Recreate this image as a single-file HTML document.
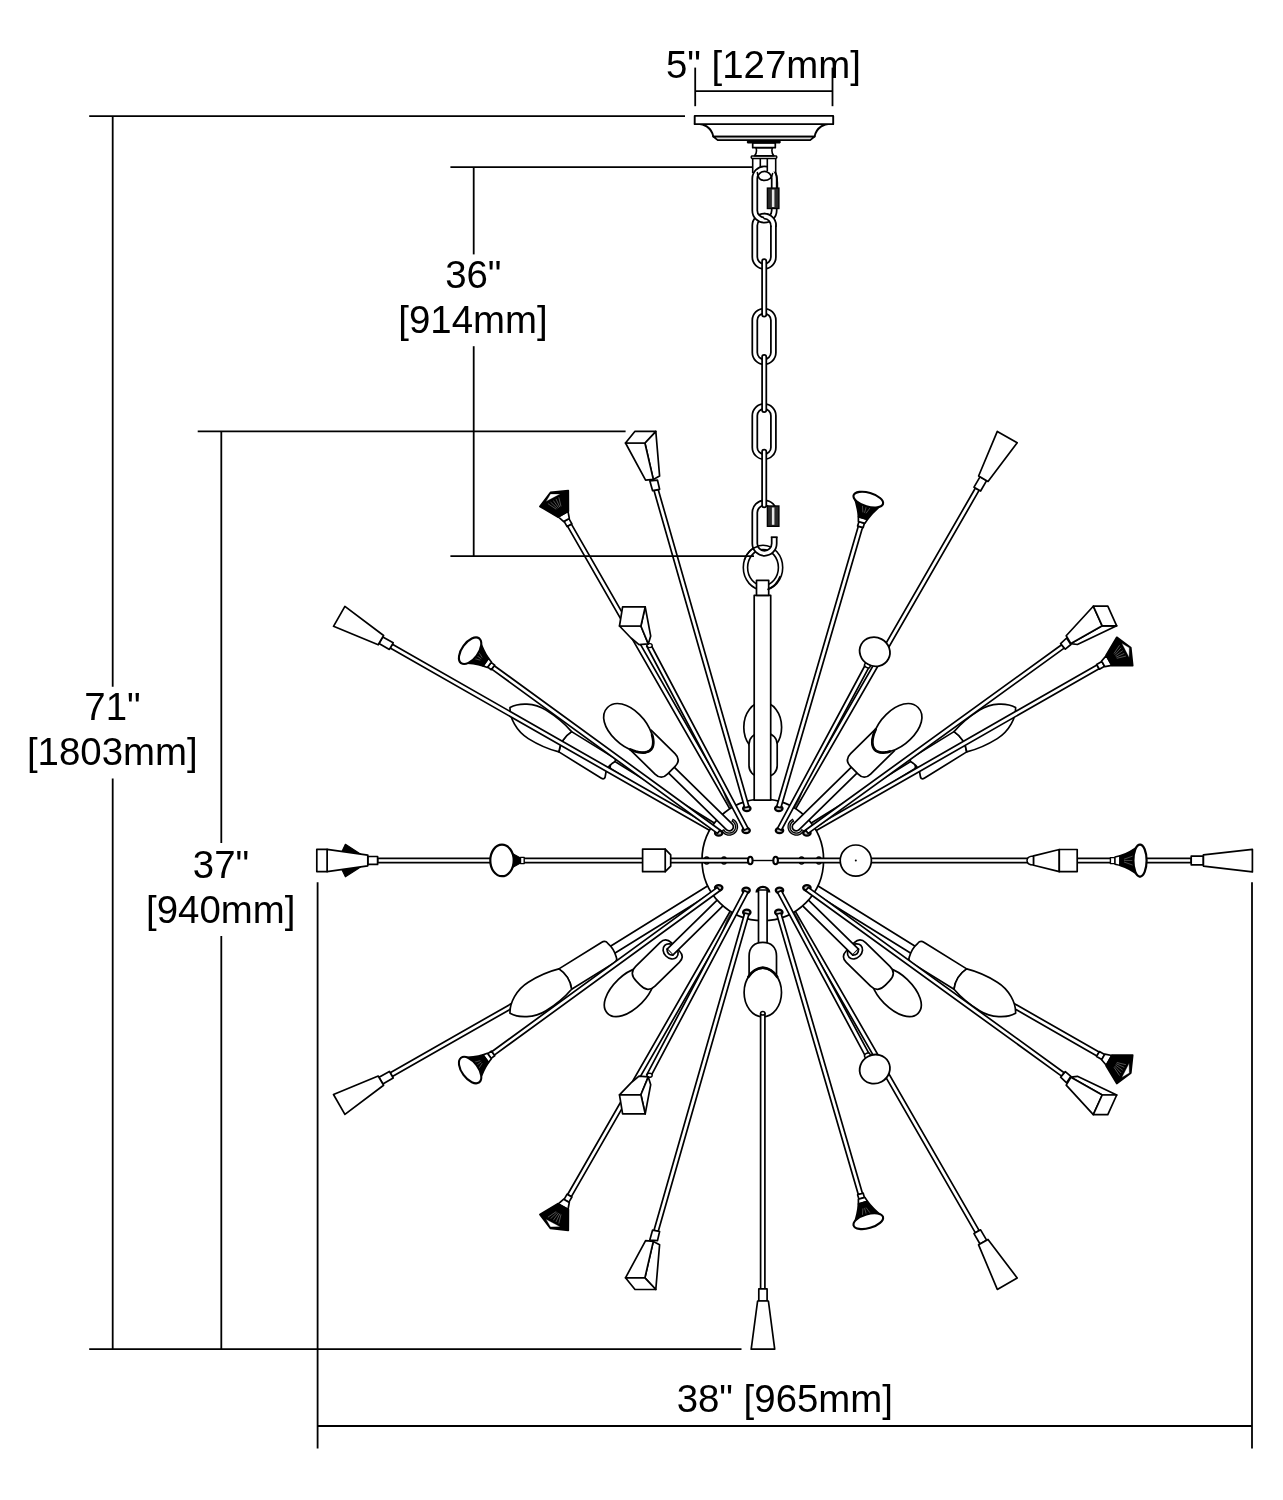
<!DOCTYPE html>
<html lang="en">
<head>
<meta charset="utf-8">
<title>Chandelier dimension drawing</title>
<style>html,body{margin:0;padding:0;background:#fff}body{width:1283px;height:1500px;overflow:hidden}svg{display:block;will-change:transform;transform:translateZ(0)}</style>
</head>
<body>
<svg width="1283" height="1500" viewBox="0 0 1283 1500">
<rect width="1283" height="1500" fill="#fff"/>
<polygon points="612.7,760.1 729.2,832.3 724.8,839.3 608.4,767.1" fill="#fff" stroke="#000" stroke-width="1.7" stroke-linejoin="round"/>
<path d="M614.8,761.4 Q609.3,762.8 610.5,768.4 " fill="none" stroke="#000" stroke-width="1.5" stroke-linejoin="round" stroke-linecap="round"/>
<path d="M571.6,731.6 L614.1,757.9 Q616.6,759.5 614.6,761.8 Q605.6,766.8 605.1,777.1 Q604,779.9 601.4,778.3 L558.9,751.9 Q560.6,738.9 571.6,731.6 Z" fill="#fff" stroke="#000" stroke-width="1.7" stroke-linejoin="round" stroke-linecap="round"/>
<path d="M510,707.5 C519,702.5 534.2,702.7 546,710.1 C557.9,717.5 566.1,725.2 571.6,731.6 Q560.6,738.9 558.9,751.9 C550.8,749.9 540.2,746 528.3,738.6 C516.4,731.3 509.5,717.8 510,707.5 Z" fill="#fff" stroke="#000" stroke-width="1.7" stroke-linejoin="round" stroke-linecap="round"/>
<polygon points="390.2,648 735.7,845.2 737.9,841.5 392.4,644.2" fill="#fff" stroke="#000" stroke-width="1.7" stroke-linejoin="round"/>
<polygon points="389.4,649.4 379,643.5 382.8,636.9 393.2,642.8" fill="#fff" stroke="#000" stroke-width="1.7" stroke-linejoin="round"/>
<polygon points="378.2,644.8 333.5,626.3 344.9,606.4 383.6,635.5" fill="#fff" stroke="#000" stroke-width="1.7" stroke-linejoin="round"/>
<polygon points="567.6,526.3 744.7,834.8 748.5,832.6 571.4,524.1" fill="#fff" stroke="#000" stroke-width="1.7" stroke-linejoin="round"/>
<polygon points="567.1,526.6 564.1,521.4 568.9,518.6 571.9,523.8" fill="#fff" stroke="#000" stroke-width="1.7" stroke-linejoin="round"/>
<polygon points="563.7,521.6 558.3,516.9 568,511.3 569.3,518.4" fill="#fff" stroke="#000" stroke-width="1.7" stroke-linejoin="round"/>
<polygon points="557.8,517.1 539.9,506.4 550.5,492.4 568.3,490.5 568.4,511.3" fill="#000" stroke="#000" stroke-width="1.7" stroke-linejoin="round"/>
<polygon points="550.5,493.9 560.2,494.1 546,501.5" fill="#fff" stroke="#000" stroke-width="0.3" stroke-linejoin="round"/>
<line x1="556.2" y1="509.2" x2="547.9" y2="503.6" stroke="#fff" stroke-width="0.6" opacity="0.55"/>
<line x1="557.4" y1="508.5" x2="550.5" y2="502.1" stroke="#fff" stroke-width="0.6" opacity="0.55"/>
<line x1="558.6" y1="507.8" x2="553.3" y2="500.5" stroke="#fff" stroke-width="0.6" opacity="0.55"/>
<line x1="559.8" y1="507.1" x2="556" y2="498.9" stroke="#fff" stroke-width="0.6" opacity="0.55"/>
<line x1="561" y1="506.4" x2="558.8" y2="497.3" stroke="#fff" stroke-width="0.6" opacity="0.55"/>
<polygon points="917.2,767.1 800.8,839.3 796.4,832.3 912.9,760.1" fill="#fff" stroke="#000" stroke-width="1.7" stroke-linejoin="round"/>
<path d="M915.1,768.4 Q916.3,762.8 910.8,761.4 " fill="none" stroke="#000" stroke-width="1.5" stroke-linejoin="round" stroke-linecap="round"/>
<path d="M966.7,751.9 L924.2,778.3 Q921.6,779.9 920.5,777.1 Q920,766.8 911,761.8 Q909,759.5 911.5,757.9 L954,731.6 Q965,738.9 966.7,751.9 Z" fill="#fff" stroke="#000" stroke-width="1.7" stroke-linejoin="round" stroke-linecap="round"/>
<path d="M1015.6,707.5 C1016.1,717.8 1009.2,731.3 997.3,738.6 C985.4,746 974.8,749.9 966.7,751.9 Q965,738.9 954,731.6 C959.5,725.2 967.7,717.5 979.6,710.1 C991.4,702.7 1006.6,702.5 1015.6,707.5 Z" fill="#fff" stroke="#000" stroke-width="1.7" stroke-linejoin="round" stroke-linecap="round"/>
<polygon points="1096.9,664.9 787.9,841.9 790.1,845.6 1099.1,668.7" fill="#fff" stroke="#000" stroke-width="1.7" stroke-linejoin="round"/>
<polygon points="1096.6,664.4 1101.8,661.4 1104.6,666.2 1099.4,669.2" fill="#fff" stroke="#000" stroke-width="1.7" stroke-linejoin="round"/>
<polygon points="1101.6,661 1106.3,655.6 1111.9,665.3 1104.8,666.6" fill="#fff" stroke="#000" stroke-width="1.7" stroke-linejoin="round"/>
<polygon points="1106.1,655.1 1116.8,637.3 1130.8,647.8 1132.7,665.6 1111.9,665.7" fill="#000" stroke="#000" stroke-width="1.7" stroke-linejoin="round"/>
<polygon points="1129.3,647.8 1129.1,657.5 1121.8,643.3" fill="#fff" stroke="#000" stroke-width="0.3" stroke-linejoin="round"/>
<line x1="1114" y1="653.5" x2="1119.6" y2="645.2" stroke="#fff" stroke-width="0.6" opacity="0.55"/>
<line x1="1114.7" y1="654.7" x2="1121.1" y2="647.8" stroke="#fff" stroke-width="0.6" opacity="0.55"/>
<line x1="1115.4" y1="655.9" x2="1122.7" y2="650.6" stroke="#fff" stroke-width="0.6" opacity="0.55"/>
<line x1="1116.1" y1="657.1" x2="1124.3" y2="653.4" stroke="#fff" stroke-width="0.6" opacity="0.55"/>
<line x1="1116.8" y1="658.3" x2="1125.9" y2="656.1" stroke="#fff" stroke-width="0.6" opacity="0.55"/>
<polygon points="975.4,488 777,832.6 780.8,834.7 979.2,490.2" fill="#fff" stroke="#000" stroke-width="1.7" stroke-linejoin="round"/>
<polygon points="974,487.2 980,476.8 986.6,480.6 980.6,491" fill="#fff" stroke="#000" stroke-width="1.7" stroke-linejoin="round"/>
<polygon points="978.6,476 997.3,431.4 1017.2,442.8 988,481.4" fill="#fff" stroke="#000" stroke-width="1.7" stroke-linejoin="round"/>
<polygon points="392.4,1076.6 737.9,879.3 735.7,875.6 390.2,1072.8" fill="#fff" stroke="#000" stroke-width="1.7" stroke-linejoin="round"/>
<polygon points="393.2,1078 382.8,1083.9 379,1077.3 389.4,1071.4" fill="#fff" stroke="#000" stroke-width="1.7" stroke-linejoin="round"/>
<polygon points="383.6,1085.3 344.9,1114.4 333.5,1094.5 378.2,1076" fill="#fff" stroke="#000" stroke-width="1.7" stroke-linejoin="round"/>
<polygon points="605.6,949.2 722,877 726.4,884 609.9,956.2" fill="#fff" stroke="#000" stroke-width="1.7" stroke-linejoin="round"/>
<path d="M607.7,947.9 Q606.5,953.5 612,954.9 " fill="none" stroke="#000" stroke-width="1.5" stroke-linejoin="round" stroke-linecap="round"/>
<path d="M558.9,968.9 L601.4,942.5 Q605.2,940.1 607.8,943.3 Q614.1,948.7 616.2,956.9 Q617.9,960.5 614.1,962.9 L571.6,989.2 Q569.9,976.2 558.9,968.9 Z" fill="#fff" stroke="#000" stroke-width="1.7" stroke-linejoin="round" stroke-linecap="round"/>
<path d="M510,1013.3 C509.5,1003 516.4,989.5 528.3,982.2 C540.2,974.8 550.8,970.9 558.9,968.9 Q569.9,976.2 571.6,989.2 C566.1,995.6 557.9,1003.3 546,1010.7 C534.2,1018.1 519,1018.3 510,1013.3 Z" fill="#fff" stroke="#000" stroke-width="1.7" stroke-linejoin="round" stroke-linecap="round"/>
<path d="M607.5,1013.3 C600.5,1006.2 605.3,992.2 618.4,979.4 C629.6,968.4 646.5,963 652.5,969.2 C658.5,975.4 652.9,992.1 641.6,1003.1 C628.6,1015.9 614.5,1020.4 607.5,1013.3 Z" fill="#fff" stroke="#000" stroke-width="1.7" stroke-linejoin="round" stroke-linecap="round"/>
<path d="M635.7,966.4 L660,942.6 Q665.7,937 671.3,942.7 L679.4,951 Q685,956.7 679.3,962.3 L655,986.1 Q647.9,993.1 640.2,985.2 L636.3,981.2 Q628.6,973.3 635.7,966.4 Z" fill="#fff" stroke="#000" stroke-width="1.7" stroke-linejoin="round" stroke-linecap="round"/>
<ellipse cx="670.6" cy="951.4" rx="6.6" ry="8.4" fill="#fff" stroke="#000" stroke-width="1.7" transform="rotate(-44.4 670.6 951.4)"/>
<polygon points="667.1,949.2 736.8,880.9 742.5,886.7 672.8,955.1" fill="#fff" stroke="#000" stroke-width="1.7" stroke-linejoin="round"/>
<path d="M667.1,949.2 Q666.9,955.1 672.8,955.1 " fill="#fff" stroke="#000" stroke-width="1.7" stroke-linejoin="round" stroke-linecap="round"/>
<polygon points="571.4,1196.7 748.5,888.2 744.7,886 567.6,1194.5" fill="#fff" stroke="#000" stroke-width="1.7" stroke-linejoin="round"/>
<polygon points="571.9,1197 568.9,1202.2 564.1,1199.4 567.1,1194.2" fill="#fff" stroke="#000" stroke-width="1.7" stroke-linejoin="round"/>
<polygon points="569.3,1202.4 568,1209.5 558.3,1203.9 563.7,1199.2" fill="#fff" stroke="#000" stroke-width="1.7" stroke-linejoin="round"/>
<polygon points="557.8,1203.7 539.9,1214.4 550.5,1228.4 568.3,1230.3 568.4,1209.5" fill="#000" stroke="#000" stroke-width="1.7" stroke-linejoin="round"/>
<polygon points="550.5,1226.9 560.2,1226.7 546,1219.3" fill="#fff" stroke="#000" stroke-width="0.3" stroke-linejoin="round"/>
<line x1="556.2" y1="1211.6" x2="547.9" y2="1217.2" stroke="#fff" stroke-width="0.6" opacity="0.55"/>
<line x1="557.4" y1="1212.3" x2="550.5" y2="1218.7" stroke="#fff" stroke-width="0.6" opacity="0.55"/>
<line x1="558.6" y1="1213" x2="553.3" y2="1220.3" stroke="#fff" stroke-width="0.6" opacity="0.55"/>
<line x1="559.8" y1="1213.7" x2="556" y2="1221.9" stroke="#fff" stroke-width="0.6" opacity="0.55"/>
<line x1="561" y1="1214.4" x2="558.8" y2="1223.5" stroke="#fff" stroke-width="0.6" opacity="0.55"/>
<polygon points="1099.1,1052.1 790.1,875.2 787.9,878.9 1096.9,1055.9" fill="#fff" stroke="#000" stroke-width="1.7" stroke-linejoin="round"/>
<polygon points="1099.4,1051.6 1104.6,1054.6 1101.8,1059.4 1096.6,1056.4" fill="#fff" stroke="#000" stroke-width="1.7" stroke-linejoin="round"/>
<polygon points="1104.8,1054.2 1111.9,1055.5 1106.3,1065.2 1101.6,1059.8" fill="#fff" stroke="#000" stroke-width="1.7" stroke-linejoin="round"/>
<polygon points="1106.1,1065.7 1116.8,1083.5 1130.8,1073 1132.7,1055.2 1111.9,1055.1" fill="#000" stroke="#000" stroke-width="1.7" stroke-linejoin="round"/>
<polygon points="1129.3,1073 1129.1,1063.3 1121.8,1077.5" fill="#fff" stroke="#000" stroke-width="0.3" stroke-linejoin="round"/>
<line x1="1114" y1="1067.3" x2="1119.6" y2="1075.6" stroke="#fff" stroke-width="0.6" opacity="0.55"/>
<line x1="1114.7" y1="1066.1" x2="1121.1" y2="1073" stroke="#fff" stroke-width="0.6" opacity="0.55"/>
<line x1="1115.4" y1="1064.9" x2="1122.7" y2="1070.2" stroke="#fff" stroke-width="0.6" opacity="0.55"/>
<line x1="1116.1" y1="1063.7" x2="1124.3" y2="1067.4" stroke="#fff" stroke-width="0.6" opacity="0.55"/>
<line x1="1116.8" y1="1062.5" x2="1125.9" y2="1064.7" stroke="#fff" stroke-width="0.6" opacity="0.55"/>
<polygon points="915.7,956.2 799.2,884 803.6,877 920,949.2" fill="#fff" stroke="#000" stroke-width="1.7" stroke-linejoin="round"/>
<path d="M913.6,954.9 Q919.1,953.5 917.9,947.9 " fill="none" stroke="#000" stroke-width="1.5" stroke-linejoin="round" stroke-linecap="round"/>
<path d="M954,989.2 L911.5,962.9 Q907.7,960.5 909.4,956.9 Q911.5,948.7 917.8,943.3 Q920.4,940.1 924.2,942.5 L966.7,968.9 Q955.7,976.2 954,989.2 Z" fill="#fff" stroke="#000" stroke-width="1.7" stroke-linejoin="round" stroke-linecap="round"/>
<path d="M1015.6,1013.3 C1006.6,1018.3 991.4,1018.1 979.6,1010.7 C967.7,1003.3 959.5,995.6 954,989.2 Q955.7,976.2 966.7,968.9 C974.8,970.9 985.4,974.8 997.3,982.2 C1009.2,989.5 1016.1,1003 1015.6,1013.3 Z" fill="#fff" stroke="#000" stroke-width="1.7" stroke-linejoin="round" stroke-linecap="round"/>
<path d="M918.1,1013.3 C911.1,1020.4 897,1015.9 884,1003.1 C872.7,992.1 867.1,975.4 873.1,969.2 C879.1,963 896,968.4 907.2,979.4 C920.3,992.2 925.1,1006.2 918.1,1013.3 Z" fill="#fff" stroke="#000" stroke-width="1.7" stroke-linejoin="round" stroke-linecap="round"/>
<path d="M870.6,986.1 L846.3,962.3 Q840.6,956.7 846.2,951 L854.3,942.7 Q859.9,937 865.6,942.6 L889.9,966.4 Q897,973.3 889.3,981.2 L885.4,985.2 Q877.7,993.1 870.6,986.1 Z" fill="#fff" stroke="#000" stroke-width="1.7" stroke-linejoin="round" stroke-linecap="round"/>
<ellipse cx="855" cy="951.4" rx="6.6" ry="8.4" fill="#fff" stroke="#000" stroke-width="1.7" transform="rotate(-135.6 855 951.4)"/>
<polygon points="852.8,955.1 783.1,886.7 788.8,880.9 858.5,949.2" fill="#fff" stroke="#000" stroke-width="1.7" stroke-linejoin="round"/>
<path d="M852.8,955.1 Q858.7,955.1 858.5,949.2 " fill="#fff" stroke="#000" stroke-width="1.7" stroke-linejoin="round" stroke-linecap="round"/>
<polygon points="979.2,1230.6 780.8,886.1 777,888.2 975.4,1232.8" fill="#fff" stroke="#000" stroke-width="1.7" stroke-linejoin="round"/>
<polygon points="980.6,1229.8 986.6,1240.2 980,1244 974,1233.6" fill="#fff" stroke="#000" stroke-width="1.7" stroke-linejoin="round"/>
<polygon points="988,1239.4 1017.2,1278 997.3,1289.4 978.6,1244.8" fill="#fff" stroke="#000" stroke-width="1.7" stroke-linejoin="round"/>
<polygon points="718.6,780.6 735,809.2 732,810.9 726.6,801.4" fill="#3a3a3a"/>
<polygon points="807,780.6 790.6,809.2 793.6,810.9 799,801.4" fill="#3a3a3a"/>
<polygon points="718.6,940.2 735,911.6 732,909.9 726.6,919.4" fill="#3a3a3a"/>
<polygon points="807,940.2 790.6,911.6 793.6,909.9 799,919.4" fill="#3a3a3a"/>
<polygon points="685.8,811.7 714.4,828.1 713.4,829.9 703.9,824.4" fill="#3a3a3a"/>
<polygon points="839.8,811.7 811.2,828.1 812.2,829.9 821.7,824.4" fill="#3a3a3a"/>
<polygon points="685.8,909.1 714.4,892.7 713.4,890.9 703.9,896.4" fill="#3a3a3a"/>
<polygon points="839.8,909.1 811.2,892.7 812.2,890.9 821.7,896.4" fill="#3a3a3a"/>
<circle cx="762.8" cy="859.9" r="60.8" fill="#fff" stroke="#000" stroke-width="1.7"/>
<ellipse cx="762.7" cy="727.2" rx="18.9" ry="25" fill="#fff" stroke="#000" stroke-width="1.7"/>
<rect x="749.0" y="733.7" width="28.2" height="42.6" rx="10" ry="10.5" fill="#fff" stroke="#000" stroke-width="1.7"/>
<polygon points="754.2,595.3 770.7,595.3 770.7,800.2 754.2,800.2" fill="#fff" stroke="#000" stroke-width="1.7" stroke-linejoin="round"/>
<ellipse cx="706.7" cy="860.5" rx="2.4" ry="3.6" fill="#fff" stroke="#000" stroke-width="1.5"/>
<ellipse cx="724" cy="860.5" rx="2.4" ry="3.6" fill="#fff" stroke="#000" stroke-width="1.5"/>
<ellipse cx="801.6" cy="860.5" rx="2.4" ry="3.6" fill="#fff" stroke="#000" stroke-width="1.5"/>
<ellipse cx="818.9" cy="860.5" rx="2.4" ry="3.6" fill="#fff" stroke="#000" stroke-width="1.5"/>
<ellipse cx="746.8" cy="808.5" rx="3.7" ry="2.7" fill="#c4c4c4" stroke="#000" stroke-width="2.3"/>
<ellipse cx="778.8" cy="808.5" rx="3.7" ry="2.7" fill="#c4c4c4" stroke="#000" stroke-width="2.3"/>
<ellipse cx="746.8" cy="912.3" rx="3.7" ry="2.7" fill="#c4c4c4" stroke="#000" stroke-width="2.3"/>
<ellipse cx="778.8" cy="912.3" rx="3.7" ry="2.7" fill="#c4c4c4" stroke="#000" stroke-width="2.3"/>
<ellipse cx="746.1" cy="830.5" rx="3.7" ry="2.7" fill="#c4c4c4" stroke="#000" stroke-width="2.3"/>
<ellipse cx="779.5" cy="830.5" rx="3.7" ry="2.7" fill="#c4c4c4" stroke="#000" stroke-width="2.3"/>
<ellipse cx="746.1" cy="890.3" rx="3.7" ry="2.7" fill="#c4c4c4" stroke="#000" stroke-width="2.3"/>
<ellipse cx="779.5" cy="890.3" rx="3.7" ry="2.7" fill="#c4c4c4" stroke="#000" stroke-width="2.3"/>
<ellipse cx="718.7" cy="833" rx="3.7" ry="2.7" fill="#c4c4c4" stroke="#000" stroke-width="2.3"/>
<ellipse cx="806.9" cy="833" rx="3.7" ry="2.7" fill="#c4c4c4" stroke="#000" stroke-width="2.3"/>
<ellipse cx="718.7" cy="887.8" rx="3.7" ry="2.7" fill="#c4c4c4" stroke="#000" stroke-width="2.3"/>
<ellipse cx="806.9" cy="887.8" rx="3.7" ry="2.7" fill="#c4c4c4" stroke="#000" stroke-width="2.3"/>
<polyline points="732,820 733.1,820.6 734,821.3 734.9,822.1 735.5,823.1 736.1,824.2 736.4,825.3 736.5,826.5 736.5,827.7 736.2,828.8 735.8,830 735.2,831 734.5,831.9 733.6,832.7 732.5,833.3 731.4,833.7 730.3,834 729.1,834.1 727.9,834 726.8,833.7 725.7,833.2 724.7,832.5 723.8,831.7 723.1,830.7 722.6,829.7" fill="none" stroke="#000" stroke-width="3.3" stroke-linecap="butt"/>
<polyline points="733.1,820.6 734,821.3 734.9,822.1 735.5,823.1 736.1,824.2 736.4,825.3 736.5,826.5 736.5,827.7 736.2,828.8 735.8,830 735.2,831 734.5,831.9 733.6,832.7 732.5,833.3 731.4,833.7 730.3,834 729.1,834.1 727.9,834 726.8,833.7 725.7,833.2 724.7,832.5 723.8,831.7 723.1,830.7" fill="none" stroke="#ccc" stroke-width="0.8" stroke-linecap="butt"/>
<polygon points="491.7,669.1 717.4,833.4 720,830 494.3,665.7" fill="#fff" stroke="#000" stroke-width="1.7" stroke-linejoin="round"/>
<polygon points="491.3,669.7 487.7,667.1 491.1,662.4 494.7,665.1" fill="#fff" stroke="#000" stroke-width="1.7" stroke-linejoin="round"/>
<polygon points="487.4,667.5 483,665.9 488.5,658.3 491.4,662" fill="#fff" stroke="#000" stroke-width="1.7" stroke-linejoin="round"/>
<path d="M483,665.9 Q474.4,663.2 461.2,663 L479.1,638.5 Q483.3,651 488.5,658.3 Z" fill="#000" stroke="#000" stroke-width="1.7" stroke-linejoin="round" stroke-linecap="round"/>
<line x1="480.3" y1="660.2" x2="472.1" y2="657.9" stroke="#fff" stroke-width="0.6" opacity="0.5"/>
<line x1="481.3" y1="658.9" x2="474.8" y2="654.2" stroke="#fff" stroke-width="0.6" opacity="0.5"/>
<line x1="482.2" y1="657.6" x2="477.5" y2="650.4" stroke="#fff" stroke-width="0.6" opacity="0.5"/>
<ellipse cx="470.1" cy="650.7" rx="8.2" ry="15.3" fill="#fff" stroke="#000" stroke-width="2.1" transform="rotate(-143.9 470.1 650.7)"/>
<path d="M672.9,765.8 L732.1,823.9 C733.7,825.4 733.8,828 732.2,829.6 C730.6,831.3 728,831.3 726.4,829.7 L667.1,771.7 Z" fill="#fff" stroke="#000" stroke-width="1.7" stroke-linejoin="round" stroke-linecap="round"/>
<path d="M651.1,730.2 L675,753.6 Q681.4,759.9 675.1,766.4 L667.7,773.9 Q661.4,780.4 655,774.1 L631.1,750.6 Z" fill="#fff" stroke="#000" stroke-width="1.7" stroke-linejoin="round" stroke-linecap="round"/>
<path d="M607.5,707.5 C614.8,700.1 628,703.3 639.5,714.6 C651.2,726.1 657,743.4 650.7,749.8 C644.4,756.3 626.9,750.8 615.3,739.3 C603.7,728 600.2,714.9 607.5,707.5 Z" fill="#fff" stroke="#000" stroke-width="1.7" stroke-linejoin="round" stroke-linecap="round"/>
<polyline points="652.1,734.9 652.7,737.2 653.1,739.4 653.3,741.6 653.2,743.6 653,745.4 652.5,747.1 651.7,748.6 650.7,749.8 649.3,751 647.5,751.8 645.5,752.3 643.3,752.6 640.9,752.5 638.4,752.1 635.7,751.5 633,750.6 630.2,749.5" fill="none" stroke="#000" stroke-width="2.7" stroke-linejoin="round" stroke-linecap="round"/>
<polygon points="646.7,646 744.2,830.2 748,828.2 650.5,644" fill="#fff" stroke="#000" stroke-width="1.7" stroke-linejoin="round"/>
<ellipse cx="649.6" cy="645.6" rx="2.6" ry="2" fill="#fff" stroke="#000" stroke-width="1.4"/>
<polygon points="619.5,626 640.9,626 648.3,643.9 639,644.7 631,638" fill="#fff" stroke="#000" stroke-width="1.7" stroke-linejoin="round"/>
<polygon points="645.2,606.9 650.7,636.1 648.3,643.9 640.9,626" fill="#fff" stroke="#000" stroke-width="1.7" stroke-linejoin="round"/>
<polygon points="622.6,606.9 645.2,606.9 640.9,626 619.5,626" fill="#fff" stroke="#000" stroke-width="1.7" stroke-linejoin="round"/>
<polygon points="654,490.6 744.7,807.8 748.9,806.6 658.2,489.4" fill="#fff" stroke="#000" stroke-width="1.7" stroke-linejoin="round"/>
<polygon points="649.8,480.8 657.5,480.2 659.6,489.3 652.6,490.7" fill="#fff" stroke="#000" stroke-width="1.7" stroke-linejoin="round"/>
<polygon points="644.9,443 655.8,431.3 659.6,476 653.3,479.4" fill="#fff" stroke="#000" stroke-width="1.7" stroke-linejoin="round"/>
<polygon points="625.5,443 644.9,443 653.3,479.4 645.6,480.1" fill="#fff" stroke="#000" stroke-width="1.7" stroke-linejoin="round"/>
<polygon points="635,431.3 655.8,431.3 644.9,443 625.5,443" fill="#fff" stroke="#000" stroke-width="1.7" stroke-linejoin="round"/>
<polyline points="803,829.7 802.5,830.7 801.8,831.7 800.9,832.5 799.9,833.2 798.8,833.7 797.7,834 796.5,834.1 795.3,834 794.2,833.7 793.1,833.3 792,832.7 791.1,831.9 790.4,831 789.8,830 789.4,828.8 789.1,827.7 789.1,826.5 789.2,825.3 789.5,824.2 790.1,823.1 790.7,822.1 791.6,821.3 792.5,820.6 793.6,820" fill="none" stroke="#000" stroke-width="3.3" stroke-linecap="butt"/>
<polyline points="802.5,830.7 801.8,831.7 800.9,832.5 799.9,833.2 798.8,833.7 797.7,834 796.5,834.1 795.3,834 794.2,833.7 793.1,833.3 792,832.7 791.1,831.9 790.4,831 789.8,830 789.4,828.8 789.1,827.7 789.1,826.5 789.2,825.3 789.5,824.2 790.1,823.1 790.7,822.1 791.6,821.3 792.5,820.6" fill="none" stroke="#ccc" stroke-width="0.8" stroke-linecap="butt"/>
<polygon points="1061.6,644.7 805.6,830 808.2,833.4 1064.2,648.1" fill="#fff" stroke="#000" stroke-width="1.7" stroke-linejoin="round"/>
<polygon points="1066.6,638 1070.9,644.5 1065.3,649.2 1060.6,643.6" fill="#fff" stroke="#000" stroke-width="1.7" stroke-linejoin="round"/>
<polygon points="1102.2,625.8 1116.7,625.8 1077.4,644.5 1070.9,643.6" fill="#fff" stroke="#000" stroke-width="1.7" stroke-linejoin="round"/>
<polygon points="1093.3,606.2 1102.2,625.8 1070.9,643.6 1066.2,635.7" fill="#fff" stroke="#000" stroke-width="1.7" stroke-linejoin="round"/>
<polygon points="1093.3,606.2 1107.8,606.2 1116.7,625.8 1102.2,625.8" fill="#fff" stroke="#000" stroke-width="1.7" stroke-linejoin="round"/>
<path d="M858.5,771.7 L799.2,829.7 C797.6,831.3 795,831.3 793.4,829.6 C791.8,828 791.9,825.4 793.5,823.9 L852.7,765.8 Z" fill="#fff" stroke="#000" stroke-width="1.7" stroke-linejoin="round" stroke-linecap="round"/>
<path d="M894.5,750.6 L870.6,774.1 Q864.2,780.4 857.9,773.9 L850.5,766.4 Q844.2,759.9 850.6,753.6 L874.5,730.2 Z" fill="#fff" stroke="#000" stroke-width="1.7" stroke-linejoin="round" stroke-linecap="round"/>
<path d="M918.1,707.5 C925.4,714.9 921.9,728 910.3,739.3 C898.7,750.8 881.2,756.3 874.9,749.8 C868.6,743.4 874.4,726.1 886.1,714.6 C897.6,703.3 910.8,700.1 918.1,707.5 Z" fill="#fff" stroke="#000" stroke-width="1.7" stroke-linejoin="round" stroke-linecap="round"/>
<polyline points="889.8,751.5 887.5,752.1 885.2,752.4 883.1,752.6 881.1,752.5 879.3,752.2 877.6,751.6 876.1,750.9 874.9,749.8 873.8,748.4 873,746.6 872.5,744.6 872.3,742.4 872.4,740 872.9,737.5 873.5,734.8 874.5,732.1 875.7,729.3" fill="none" stroke="#000" stroke-width="2.7" stroke-linejoin="round" stroke-linecap="round"/>
<polygon points="866.3,663 777.6,828.2 781.4,830.2 870.1,665.1" fill="#fff" stroke="#000" stroke-width="1.7" stroke-linejoin="round"/>
<ellipse cx="867.4" cy="665.4" rx="2.2" ry="3" fill="#fff" stroke="#000" stroke-width="1.5" transform="rotate(-61.8 867.4 665.4)"/>
<ellipse cx="874.8" cy="651.7" rx="15.4" ry="14.3" fill="#fff" stroke="#000" stroke-width="1.8" transform="rotate(28.2 874.8 651.7)"/>
<polygon points="858.3,526.2 776.7,806.6 780.9,807.8 862.5,527.4" fill="#fff" stroke="#000" stroke-width="1.7" stroke-linejoin="round"/>
<polygon points="857.6,526 858.9,521.7 864.4,523.3 863.2,527.6" fill="#fff" stroke="#000" stroke-width="1.7" stroke-linejoin="round"/>
<polygon points="858.4,521.5 858.4,516.8 867.4,519.5 864.9,523.4" fill="#fff" stroke="#000" stroke-width="1.7" stroke-linejoin="round"/>
<path d="M858.4,516.8 Q858,507.9 853.7,495.4 L882.9,503.9 Q872.6,512.1 867.4,519.5 Z" fill="#000" stroke="#000" stroke-width="1.7" stroke-linejoin="round" stroke-linecap="round"/>
<line x1="862.9" y1="512.4" x2="862.3" y2="503.9" stroke="#fff" stroke-width="0.6" opacity="0.5"/>
<line x1="864.5" y1="512.9" x2="866.7" y2="505.2" stroke="#fff" stroke-width="0.6" opacity="0.5"/>
<line x1="866" y1="513.3" x2="871.1" y2="506.5" stroke="#fff" stroke-width="0.6" opacity="0.5"/>
<ellipse cx="868.3" cy="499.6" rx="6.9" ry="15.3" fill="#fff" stroke="#000" stroke-width="2.1" transform="rotate(-73.8 868.3 499.6)"/>
<polygon points="494.3,1055.1 720,890.8 717.4,887.4 491.7,1051.7" fill="#fff" stroke="#000" stroke-width="1.7" stroke-linejoin="round"/>
<polygon points="494.7,1055.7 491.1,1058.4 487.7,1053.7 491.3,1051.1" fill="#fff" stroke="#000" stroke-width="1.7" stroke-linejoin="round"/>
<polygon points="491.4,1058.8 488.5,1062.5 483,1054.9 487.4,1053.3" fill="#fff" stroke="#000" stroke-width="1.7" stroke-linejoin="round"/>
<path d="M488.5,1062.5 Q483.3,1069.8 479.1,1082.3 L461.2,1057.8 Q474.4,1057.6 483,1054.9 Z" fill="#000" stroke="#000" stroke-width="1.7" stroke-linejoin="round" stroke-linecap="round"/>
<line x1="482.2" y1="1063.2" x2="477.5" y2="1070.4" stroke="#fff" stroke-width="0.6" opacity="0.5"/>
<line x1="481.3" y1="1061.9" x2="474.8" y2="1066.6" stroke="#fff" stroke-width="0.6" opacity="0.5"/>
<line x1="480.3" y1="1060.6" x2="472.1" y2="1062.9" stroke="#fff" stroke-width="0.6" opacity="0.5"/>
<ellipse cx="470.1" cy="1070.1" rx="8.2" ry="15.3" fill="#fff" stroke="#000" stroke-width="2.1" transform="rotate(143.9 470.1 1070.1)"/>
<polygon points="650.5,1076.8 748,892.6 744.2,890.6 646.7,1074.8" fill="#fff" stroke="#000" stroke-width="1.7" stroke-linejoin="round"/>
<ellipse cx="649.6" cy="1075.2" rx="2.6" ry="2" fill="#fff" stroke="#000" stroke-width="1.4"/>
<polygon points="619.5,1094.8 640.9,1094.8 648.3,1076.9 639,1076.1 631,1082.8" fill="#fff" stroke="#000" stroke-width="1.7" stroke-linejoin="round"/>
<polygon points="645.2,1113.9 650.7,1084.7 648.3,1076.9 640.9,1094.8" fill="#fff" stroke="#000" stroke-width="1.7" stroke-linejoin="round"/>
<polygon points="622.6,1113.9 645.2,1113.9 640.9,1094.8 619.5,1094.8" fill="#fff" stroke="#000" stroke-width="1.7" stroke-linejoin="round"/>
<polygon points="658.2,1231.4 748.9,914.2 744.7,913 654,1230.2" fill="#fff" stroke="#000" stroke-width="1.7" stroke-linejoin="round"/>
<polygon points="649.8,1240 657.5,1240.6 659.6,1231.5 652.6,1230.1" fill="#fff" stroke="#000" stroke-width="1.7" stroke-linejoin="round"/>
<polygon points="644.9,1277.8 655.8,1289.5 659.6,1244.8 653.3,1241.4" fill="#fff" stroke="#000" stroke-width="1.7" stroke-linejoin="round"/>
<polygon points="625.5,1277.8 644.9,1277.8 653.3,1241.4 645.6,1240.7" fill="#fff" stroke="#000" stroke-width="1.7" stroke-linejoin="round"/>
<polygon points="635,1289.5 655.8,1289.5 644.9,1277.8 625.5,1277.8" fill="#fff" stroke="#000" stroke-width="1.7" stroke-linejoin="round"/>
<polygon points="1064.2,1072.7 808.2,887.4 805.6,890.8 1061.6,1076.1" fill="#fff" stroke="#000" stroke-width="1.7" stroke-linejoin="round"/>
<polygon points="1066.6,1082.8 1070.9,1076.3 1065.3,1071.6 1060.6,1077.2" fill="#fff" stroke="#000" stroke-width="1.7" stroke-linejoin="round"/>
<polygon points="1102.2,1095 1116.7,1095 1077.4,1076.3 1070.9,1077.2" fill="#fff" stroke="#000" stroke-width="1.7" stroke-linejoin="round"/>
<polygon points="1093.3,1114.6 1102.2,1095 1070.9,1077.2 1066.2,1085.1" fill="#fff" stroke="#000" stroke-width="1.7" stroke-linejoin="round"/>
<polygon points="1093.3,1114.6 1107.8,1114.6 1116.7,1095 1102.2,1095" fill="#fff" stroke="#000" stroke-width="1.7" stroke-linejoin="round"/>
<polygon points="870.1,1055.7 781.4,890.6 777.6,892.6 866.3,1057.8" fill="#fff" stroke="#000" stroke-width="1.7" stroke-linejoin="round"/>
<ellipse cx="867.4" cy="1055.4" rx="2.2" ry="3" fill="#fff" stroke="#000" stroke-width="1.5" transform="rotate(61.8 867.4 1055.4)"/>
<ellipse cx="874.8" cy="1069.1" rx="15.4" ry="14.3" fill="#fff" stroke="#000" stroke-width="1.8" transform="rotate(151.8 874.8 1069.1)"/>
<polygon points="862.5,1193.4 780.9,913 776.7,914.2 858.3,1194.6" fill="#fff" stroke="#000" stroke-width="1.7" stroke-linejoin="round"/>
<polygon points="863.2,1193.2 864.4,1197.5 858.9,1199.1 857.6,1194.8" fill="#fff" stroke="#000" stroke-width="1.7" stroke-linejoin="round"/>
<polygon points="864.9,1197.4 867.4,1201.3 858.4,1204 858.4,1199.3" fill="#fff" stroke="#000" stroke-width="1.7" stroke-linejoin="round"/>
<path d="M867.4,1201.3 Q872.6,1208.7 882.9,1216.9 L853.7,1225.4 Q858,1212.9 858.4,1204 Z" fill="#000" stroke="#000" stroke-width="1.7" stroke-linejoin="round" stroke-linecap="round"/>
<line x1="866" y1="1207.5" x2="871.1" y2="1214.3" stroke="#fff" stroke-width="0.6" opacity="0.5"/>
<line x1="864.5" y1="1207.9" x2="866.7" y2="1215.6" stroke="#fff" stroke-width="0.6" opacity="0.5"/>
<line x1="862.9" y1="1208.4" x2="862.3" y2="1216.9" stroke="#fff" stroke-width="0.6" opacity="0.5"/>
<ellipse cx="868.3" cy="1221.2" rx="6.9" ry="15.3" fill="#fff" stroke="#000" stroke-width="2.1" transform="rotate(73.8 868.3 1221.2)"/>
<polygon points="377.6,862.6 750.1,862.6 750.1,858.4 377.6,858.4" fill="#fff" stroke="#000" stroke-width="1.7" stroke-linejoin="round"/>
<polygon points="775.8,862.6 1191.2,862.6 1191.2,858.4 775.8,858.4" fill="#fff" stroke="#000" stroke-width="1.7" stroke-linejoin="round"/>
<line x1="750.1" y1="860.5" x2="775.8" y2="860.5" stroke="#000" stroke-width="1.4" stroke-linecap="butt"/>
<ellipse cx="750.3" cy="860.5" rx="2.3" ry="3.7" fill="#fff" stroke="#000" stroke-width="2.1"/>
<ellipse cx="775.6" cy="860.5" rx="2.3" ry="3.7" fill="#fff" stroke="#000" stroke-width="2.1"/>
<polygon points="665.2,849.1 670.7,854.9 670.7,866.2 665.2,871.7" fill="#fff" stroke="#000" stroke-width="1.7" stroke-linejoin="round"/>
<polygon points="642.6,849.1 665.2,849.1 665.2,871.7 642.6,871.7" fill="#fff" stroke="#000" stroke-width="1.7" stroke-linejoin="round"/>
<polygon points="511.5,853 520.5,858 520.5,863 511.5,868" fill="#000" stroke="#000" stroke-width="1.2" stroke-linejoin="round"/>
<polygon points="520.5,857.4 524.2,857.4 524.2,863.6 520.5,863.6" fill="#fff" stroke="#000" stroke-width="1.4" stroke-linejoin="round"/>
<ellipse cx="502" cy="860.4" rx="11.7" ry="15.8" fill="#fff" stroke="#000" stroke-width="2.2"/>
<polygon points="342.1,851.3 345.4,844.3 360.8,854.3" fill="#000" stroke="#000" stroke-width="1.2" stroke-linejoin="round"/>
<polygon points="342.1,870.1 345.4,876.8 360.3,867.3" fill="#000" stroke="#000" stroke-width="1.2" stroke-linejoin="round"/>
<polygon points="367.8,856.5 377.6,856.5 377.6,864.4 367.8,864.4" fill="#fff" stroke="#000" stroke-width="1.7" stroke-linejoin="round"/>
<polygon points="327.1,849.3 367.8,855.1 367.8,865.8 327.1,871.6" fill="#fff" stroke="#000" stroke-width="1.7" stroke-linejoin="round"/>
<polygon points="316.8,849.3 327.1,849.3 327.1,871.6 316.8,871.6" fill="#fff" stroke="#000" stroke-width="1.7" stroke-linejoin="round"/>
<circle cx="855.8" cy="860.6" r="15.6" fill="#fff" stroke="#000" stroke-width="1.7"/>
<circle cx="855.8" cy="860.6" r="1" fill="#000"/>
<path d="M1033.6,856 Q1027.0,856.2 1027.0,860.5 Q1027.0,864.9 1033.6,865.1 Z" fill="#fff" stroke="#000" stroke-width="1.5" stroke-linejoin="round" stroke-linecap="round"/>
<polygon points="1033.6,855.9 1059.3,849.5 1059.3,871.6 1033.6,865.2" fill="#fff" stroke="#000" stroke-width="1.7" stroke-linejoin="round"/>
<polygon points="1059.3,849.5 1077.2,849.5 1077.2,871.6 1059.3,871.6" fill="#fff" stroke="#000" stroke-width="1.7" stroke-linejoin="round"/>
<polygon points="1110.4,857.6 1115,857.6 1115,863.6 1110.4,863.6" fill="#fff" stroke="#000" stroke-width="1.4" stroke-linejoin="round"/>
<polygon points="1115,857 1120,855.8 1120,865.4 1115,864.2" fill="#fff" stroke="#000" stroke-width="1.4" stroke-linejoin="round"/>
<path d="M1120,855.8 Q1130,853 1140,844.6 L1140,876.6 Q1130,868.2 1120,865.4 Z" fill="#000" stroke="#000" stroke-width="1.7" stroke-linejoin="round" stroke-linecap="round"/>
<line x1="1124" y1="859.2" x2="1133" y2="856" stroke="#fff" stroke-width="0.6" opacity="0.5"/>
<line x1="1124" y1="860.6" x2="1133" y2="860.6" stroke="#fff" stroke-width="0.6" opacity="0.5"/>
<line x1="1124" y1="862" x2="1133" y2="865.2" stroke="#fff" stroke-width="0.6" opacity="0.5"/>
<ellipse cx="1140" cy="860.6" rx="6.6" ry="16" fill="#fff" stroke="#000" stroke-width="2.2"/>
<polygon points="1191.2,856.2 1203.4,856.2 1203.4,864.8 1191.2,864.8" fill="#fff" stroke="#000" stroke-width="1.7" stroke-linejoin="round"/>
<polygon points="1203.4,854.9 1252.4,849.3 1252.4,871.9 1203.4,866.1" fill="#fff" stroke="#000" stroke-width="1.7" stroke-linejoin="round"/>
<polygon points="758.5,890 767.1,890 767.1,945 758.5,945" fill="#fff" stroke="#000" stroke-width="1.7" stroke-linejoin="round"/>
<path d="M749.1,978 L749.1,956 C749.1,947.1 754.6,942.3 762.8,942.3 C771,942.3 776.5,947.1 776.5,956 L776.5,978 Z" fill="#fff" stroke="#000" stroke-width="1.7" stroke-linejoin="round" stroke-linecap="round"/>
<ellipse cx="762.8" cy="992.5" rx="18.7" ry="24.3" fill="#fff" stroke="#000" stroke-width="1.7"/>
<path d="M748.3,977 Q753.8,968.3 762.8,967.6 Q771.8,968.3 777.3,977 " fill="none" stroke="#000" stroke-width="2.6" stroke-linejoin="round" stroke-linecap="round"/>
<polygon points="760.6,1013.5 760.6,1288.9 764.9,1288.9 764.9,1013.5" fill="#fff" stroke="#000" stroke-width="1.7" stroke-linejoin="round"/>
<ellipse cx="762.8" cy="1013.2" rx="2.2" ry="1.8" fill="#fff" stroke="#000" stroke-width="1.5"/>
<polygon points="758.8,1288.9 767.1,1288.9 767.1,1301 758.8,1301" fill="#fff" stroke="#000" stroke-width="1.7" stroke-linejoin="round"/>
<polygon points="757.6,1301 768.4,1301 774.7,1349.2 751.2,1349.2" fill="#fff" stroke="#000" stroke-width="1.7" stroke-linejoin="round"/>
<path d="M756.6,892.5 A6.3,5.6 0 0 1 769.2,892.5" fill="none" stroke="#000" stroke-width="2.4"/>
<ellipse cx="763" cy="567.6" rx="19.7" ry="22.3" fill="#fff" stroke="#000" stroke-width="1.6"/>
<ellipse cx="763" cy="567.6" rx="15.4" ry="18" fill="#fff" stroke="#000" stroke-width="1.6"/>
<polygon points="756.5,580.3 768.7,580.3 768.7,595.3 756.5,595.3" fill="#fff" stroke="#000" stroke-width="1.7" stroke-linejoin="round"/>
<path d="M768.0,589.3 Q776.6,585.5 780.0,576.5" fill="none" stroke="#000" stroke-width="1.6" stroke-linejoin="round" stroke-linecap="round"/>
<path d="M764.5,500.4 L764.5,500.4 A12.2,12.2 0 0 1 776.7,512.6 L776.7,543.6 A12.2,12.2 0 0 1 764.5,555.8 L764.5,555.8 A12.2,12.2 0 0 1 752.3,543.6 L752.3,512.6 A12.2,12.2 0 0 1 764.5,500.4 Z M764.5,505.4 L764.5,505.4 A7.2,7.2 0 0 1 771.7,512.6 L771.7,543.6 A7.2,7.2 0 0 1 764.5,550.8 L764.5,550.8 A7.2,7.2 0 0 1 757.3,543.6 L757.3,512.6 A7.2,7.2 0 0 1 764.5,505.4 Z" fill="#fff" fill-rule="evenodd" stroke="#000" stroke-width="1.75"/>
<rect x="768.0" y="524.0" width="12" height="13.2" fill="#fff"/>
<line x1="770.8" y1="537.2" x2="777.6" y2="537.2" stroke="#000" stroke-width="1.8" stroke-linecap="butt"/>
<rect x="767.4" y="506.0" width="11.5" height="20.3" fill="#2a2a2a" stroke="#000" stroke-width="1.4"/>
<rect x="771.9" y="507.5" width="2.5" height="17.3" fill="#e6e6e6"/>
<path d="M744.6,559.5 Q748.5,549.0 757.5,546.6" fill="none" stroke="#000" stroke-width="1.6" stroke-linejoin="round" stroke-linecap="round"/>
<path d="M764.1,403.9 L764.1,403.9 A11.8,11.8 0 0 1 775.9,415.7 L775.9,447.4 A11.8,11.8 0 0 1 764.1,459.2 L764.1,459.2 A11.8,11.8 0 0 1 752.3,447.4 L752.3,415.7 A11.8,11.8 0 0 1 764.1,403.9 Z M764.1,408.9 L764.1,408.9 A6.8,6.8 0 0 1 770.9,415.7 L770.9,447.4 A6.8,6.8 0 0 1 764.1,454.2 L764.1,454.2 A6.8,6.8 0 0 1 757.3,447.4 L757.3,415.7 A6.8,6.8 0 0 1 764.1,408.9 Z" fill="#fff" fill-rule="evenodd" stroke="#000" stroke-width="1.75"/>
<path d="M764.1,308.5 L764.1,308.5 A11.8,11.8 0 0 1 775.9,320.3 L775.9,352.6 A11.8,11.8 0 0 1 764.1,364.4 L764.1,364.4 A11.8,11.8 0 0 1 752.3,352.6 L752.3,320.3 A11.8,11.8 0 0 1 764.1,308.5 Z M764.1,313.5 L764.1,313.5 A6.8,6.8 0 0 1 770.9,320.3 L770.9,352.6 A6.8,6.8 0 0 1 764.1,359.4 L764.1,359.4 A6.8,6.8 0 0 1 757.3,352.6 L757.3,320.3 A6.8,6.8 0 0 1 764.1,313.5 Z" fill="#fff" fill-rule="evenodd" stroke="#000" stroke-width="1.75"/>
<path d="M764.1,213.6 L764.1,213.6 A11.8,11.8 0 0 1 775.9,225.4 L775.9,257 A11.8,11.8 0 0 1 764.1,268.8 L764.1,268.8 A11.8,11.8 0 0 1 752.3,257 L752.3,225.4 A11.8,11.8 0 0 1 764.1,213.6 Z M764.1,218.6 L764.1,218.6 A6.8,6.8 0 0 1 770.9,225.4 L770.9,257 A6.8,6.8 0 0 1 764.1,263.8 L764.1,263.8 A6.8,6.8 0 0 1 757.3,257 L757.3,225.4 A6.8,6.8 0 0 1 764.1,218.6 Z" fill="#fff" fill-rule="evenodd" stroke="#000" stroke-width="1.75"/>
<rect x="752.7" y="158.3" width="23.0" height="12.5" fill="#fff"/>
<line x1="752.7" y1="158.3" x2="752.7" y2="173" stroke="#000" stroke-width="1.6" stroke-linecap="butt"/>
<line x1="760.3" y1="158.3" x2="760.3" y2="167.2" stroke="#000" stroke-width="1.6" stroke-linecap="butt"/>
<path d="M764.5,166.4 L764.5,166.4 A12.2,12.2 0 0 1 776.7,178.6 L776.7,210.4 A12.2,12.2 0 0 1 764.5,222.6 L764.5,222.6 A12.2,12.2 0 0 1 752.3,210.4 L752.3,178.6 A12.2,12.2 0 0 1 764.5,166.4 Z M764.5,171.4 L764.5,171.4 A7.2,7.2 0 0 1 771.7,178.6 L771.7,210.4 A7.2,7.2 0 0 1 764.5,217.6 L764.5,217.6 A7.2,7.2 0 0 1 757.3,210.4 L757.3,178.6 A7.2,7.2 0 0 1 764.5,171.4 Z" fill="#fff" fill-rule="evenodd" stroke="#000" stroke-width="1.75"/>
<rect x="767.3" y="158.3" width="8.4" height="13.4" fill="#fff"/>
<line x1="767.3" y1="158.3" x2="767.3" y2="171.6" stroke="#000" stroke-width="1.6" stroke-linecap="butt"/>
<line x1="775.7" y1="158.3" x2="775.7" y2="173.5" stroke="#000" stroke-width="1.6" stroke-linecap="butt"/>
<path d="M757.4,172.6 Q757.8,180.4 764.4,180.4 Q771.4,180.4 772.6,173.6" fill="none" stroke="#000" stroke-width="1.6" stroke-linejoin="round" stroke-linecap="round"/>
<path d="M775.7,173.0 Q777.6,176.5 777.4,188.0" fill="none" stroke="#000" stroke-width="1.6" stroke-linejoin="round" stroke-linecap="round"/>
<rect x="767.4" y="188.1" width="11.5" height="20.4" fill="#2a2a2a" stroke="#000" stroke-width="1.4"/>
<rect x="771.9" y="189.6" width="2.5" height="17.4" fill="#e6e6e6"/>
<path d="M764.1,213.6 A11.8,11.8 0 0 1 775.9,225.4 L770.9,225.4 A6.8,6.8 0 0 0 764.1,218.6 Z" fill="#fff"/>
<path d="M764.1,213.6 A11.8,11.8 0 0 1 775.9,226.4" fill="none" stroke="#000" stroke-width="1.6" stroke-linejoin="round" stroke-linecap="round"/>
<path d="M764.1,218.6 A6.8,6.8 0 0 1 770.9,226.4" fill="none" stroke="#000" stroke-width="1.6" stroke-linejoin="round" stroke-linecap="round"/>
<rect x="762.1" y="449.5" width="4.2" height="57.9" rx="2.1" fill="#fff" stroke="#000" stroke-width="1.75"/>
<rect x="762.1" y="354.8" width="4.2" height="57.4" rx="2.1" fill="#fff" stroke="#000" stroke-width="1.75"/>
<rect x="762.1" y="259.2" width="4.2" height="57.3" rx="2.1" fill="#fff" stroke="#000" stroke-width="1.75"/>
<path d="M752.0,155.9 L776.0,155.9 Q777.6,157.1 776.0,158.4 L752.0,158.4 Q750.4,157.1 752.0,155.9 Z" fill="#fff" stroke="#000" stroke-width="1.5" stroke-linejoin="round" stroke-linecap="round"/>
<path d="M755.9,147.7 Q757.6,151.8 754.6,155.8 L773.8,155.8 Q770.8,151.8 772.5,147.7 Z" fill="#fff" stroke="#000" stroke-width="1.6" stroke-linejoin="round" stroke-linecap="round"/>
<polygon points="752.7,143 775.3,143 775.3,147.7 752.7,147.7" fill="#fff" stroke="#000" stroke-width="1.7" stroke-linejoin="round"/>
<path d="M694.7,124.1 A15.5,15.5 0 0 1 713.3,136.6 L814.6,136.6 A15.5,15.5 0 0 1 833.2,124.1 Z" fill="#fff" stroke="#000" stroke-width="1.9" stroke-linejoin="round" stroke-linecap="round"/>
<polygon points="713.3,136.6 814.6,136.6 810.2,140.1 717.7,140.1" fill="#d8d8d8" stroke="#000" stroke-width="1.8" stroke-linejoin="round"/>
<polygon points="747.4,140.6 780.1,140.6 780.1,143 747.4,143" fill="#000" stroke="#000" stroke-width="1" stroke-linejoin="round"/>
<polygon points="694.7,115.9 833.2,115.9 833.2,124.1 694.7,124.1" fill="#fff" stroke="#000" stroke-width="1.9" stroke-linejoin="round"/>
<line x1="695.2" y1="67.6" x2="695.2" y2="106.2" stroke="#000" stroke-width="1.8" stroke-linecap="butt"/>
<line x1="832.5" y1="67.6" x2="832.5" y2="106.2" stroke="#000" stroke-width="1.8" stroke-linecap="butt"/>
<line x1="695.2" y1="91.2" x2="832.5" y2="91.2" stroke="#000" stroke-width="1.8" stroke-linecap="butt"/>
<line x1="89.2" y1="116.1" x2="685" y2="116.1" stroke="#000" stroke-width="1.8" stroke-linecap="butt"/>
<line x1="89.2" y1="1349.2" x2="741.5" y2="1349.2" stroke="#000" stroke-width="1.8" stroke-linecap="butt"/>
<line x1="112.7" y1="116.1" x2="112.7" y2="686.7" stroke="#000" stroke-width="1.8" stroke-linecap="butt"/>
<line x1="112.7" y1="778.5" x2="112.7" y2="1349.2" stroke="#000" stroke-width="1.8" stroke-linecap="butt"/>
<line x1="450.4" y1="167.2" x2="752.4" y2="167.2" stroke="#000" stroke-width="1.8" stroke-linecap="butt"/>
<line x1="450.4" y1="556.2" x2="754" y2="556.2" stroke="#000" stroke-width="1.8" stroke-linecap="butt"/>
<line x1="473.7" y1="167.2" x2="473.7" y2="254.4" stroke="#000" stroke-width="1.8" stroke-linecap="butt"/>
<line x1="473.7" y1="346.2" x2="473.7" y2="556.2" stroke="#000" stroke-width="1.8" stroke-linecap="butt"/>
<line x1="197.7" y1="431.3" x2="625.6" y2="431.3" stroke="#000" stroke-width="1.8" stroke-linecap="butt"/>
<line x1="221.3" y1="431.3" x2="221.3" y2="842.9" stroke="#000" stroke-width="1.8" stroke-linecap="butt"/>
<line x1="221.3" y1="936" x2="221.3" y2="1349.2" stroke="#000" stroke-width="1.8" stroke-linecap="butt"/>
<line x1="317.6" y1="1426" x2="1252" y2="1426" stroke="#000" stroke-width="1.8" stroke-linecap="butt"/>
<line x1="317.6" y1="882.2" x2="317.6" y2="1448.6" stroke="#000" stroke-width="1.8" stroke-linecap="butt"/>
<line x1="1252" y1="882.2" x2="1252" y2="1448.6" stroke="#000" stroke-width="1.8" stroke-linecap="butt"/>
<g font-family="'Liberation Sans', Arial, Helvetica, sans-serif" font-size="38.4" text-anchor="middle" fill="#000">
<text x="763.4" y="77.5">5&quot; [127mm]</text>
<text x="473.3" y="287.5">36&quot;</text>
<text x="473" y="332.5">[914mm]</text>
<text x="112.5" y="719.7">71&quot;</text>
<text x="112.3" y="765.4">[1803mm]</text>
<text x="221" y="877.6">37&quot;</text>
<text x="220.7" y="922.6">[940mm]</text>
<text x="784.8" y="1412.1">38&quot; [965mm]</text>
</g>
</svg>
</body>
</html>
